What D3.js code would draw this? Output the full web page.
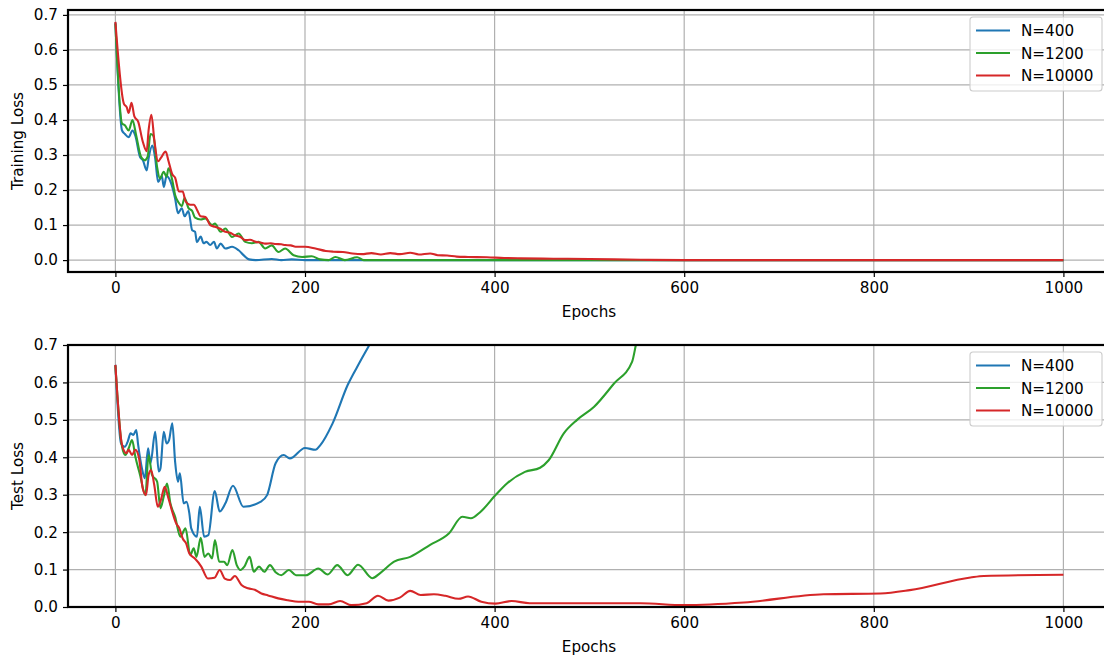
<!DOCTYPE html>
<html>
<head>
<meta charset="utf-8">
<script src="https://cdn.jsdelivr.net/npm/d3@7"></script>
<style>
  body { margin: 0; background: #fff; }
  svg { font-family: "DejaVu Sans", sans-serif; }
</style>
</head>
<body>
<div id="chart"></div>
<script>
// data: epochs and loss per series
var trainEp400 = [0, 7, 10, 14, 18, 21, 26, 29, 33, 35, 39, 42, 45, 49, 51, 54, 58, 63, 66, 70, 73, 77, 81, 84, 86, 90, 93, 96, 100, 104, 107, 111, 116, 123, 130, 136, 141, 148, 165, 175, 186, 200, 1000];
var trainLoss400 = [0.678, 0.37, 0.36, 0.351, 0.37, 0.355, 0.294, 0.285, 0.256, 0.29, 0.327, 0.29, 0.223, 0.24, 0.209, 0.24, 0.225, 0.176, 0.134, 0.148, 0.125, 0.14, 0.085, 0.081, 0.051, 0.067, 0.048, 0.052, 0.043, 0.052, 0.033, 0.047, 0.033, 0.038, 0.028, 0.012, 0.002, 0.0, 0.003, 0.0, 0.002, 0.0, 0.0];

var trainEp1200 = [0, 7, 10, 14, 18, 22, 27, 31, 34, 37, 40, 44, 47, 51, 54, 56, 60, 63, 67, 70, 73, 77, 81, 84, 90, 95, 102, 105, 111, 116, 123, 130, 137, 144, 151, 158, 165, 172, 179, 188, 197, 207, 216, 225, 232, 242, 255, 262, 1000];
var trainLoss1200 = [0.675, 0.39, 0.385, 0.37, 0.40, 0.355, 0.295, 0.285, 0.295, 0.36, 0.355, 0.265, 0.233, 0.252, 0.238, 0.262, 0.228, 0.186, 0.163, 0.154, 0.177, 0.149, 0.14, 0.121, 0.116, 0.119, 0.1, 0.104, 0.081, 0.09, 0.066, 0.076, 0.052, 0.048, 0.052, 0.033, 0.042, 0.023, 0.033, 0.014, 0.009, 0.011, 0.002, 0.0, 0.009, 0.0, 0.008, 0.0, 0.0];

var trainEp10000 = [0, 9, 12, 14, 17, 20, 24, 29, 33, 35, 38, 41, 45, 48, 53, 56, 60, 63, 67, 71, 74, 79, 83, 86, 90, 95, 100, 105, 110, 116, 121, 126, 132, 137, 142, 148, 153, 158, 164, 169, 175, 179, 185, 190, 200, 211, 222, 230, 240, 250, 260, 270, 280, 290, 300, 311, 320, 332, 340, 350, 360, 372, 392, 410, 427, 462, 500, 554, 600, 1000];
var trainLoss10000 = [0.68, 0.446, 0.436, 0.42, 0.449, 0.41, 0.395, 0.337, 0.311, 0.37, 0.415, 0.344, 0.282, 0.292, 0.31, 0.283, 0.245, 0.235, 0.196, 0.196, 0.168, 0.158, 0.158, 0.144, 0.125, 0.123, 0.1, 0.095, 0.09, 0.081, 0.078, 0.071, 0.066, 0.057, 0.058, 0.052, 0.05, 0.047, 0.048, 0.046, 0.045, 0.043, 0.042, 0.038, 0.038, 0.033, 0.026, 0.024, 0.023, 0.019, 0.017, 0.02, 0.016, 0.02, 0.017, 0.021, 0.016, 0.019, 0.014, 0.013, 0.01, 0.009, 0.008, 0.006, 0.005, 0.004, 0.003, 0.001, 0.0, 0.0];

var testEp400 = [0, 6, 10, 13, 16, 19, 22, 24, 28, 31, 34.5, 37, 42, 45.7, 47.5, 51, 54, 56.6, 60, 63, 66, 68, 72, 75, 78, 80, 86, 89, 93.6, 98, 104.8, 110, 116, 124, 135, 153, 160, 169, 177.5, 184, 200, 211, 216, 229, 245, 258, 270, 280];
var testLoss400 = [0.647, 0.437, 0.428, 0.442, 0.464, 0.46, 0.473, 0.433, 0.37, 0.344, 0.424, 0.384, 0.468, 0.362, 0.37, 0.468, 0.437, 0.446, 0.491, 0.388, 0.335, 0.357, 0.277, 0.281, 0.25, 0.21, 0.188, 0.268, 0.188, 0.192, 0.31, 0.255, 0.277, 0.324, 0.268, 0.281, 0.299, 0.384, 0.406, 0.397, 0.425, 0.42, 0.432, 0.49, 0.593, 0.655, 0.71, 0.76];

var testEp1200 = [0, 7, 10.5, 14, 17.6, 21, 26, 31.6, 35, 38.6, 44, 47.5, 51, 54.5, 58, 63, 68.5, 74, 79, 82.6, 85.5, 90, 94, 98, 102, 105, 109.5, 114.6, 118, 123.4, 128, 132, 136, 141.6, 146, 151.5, 157, 163, 169, 175, 183, 190.5, 201, 214, 224, 234, 245, 256, 271, 279, 294, 311, 332, 352, 366, 375, 385, 401, 413, 432, 448, 457, 473, 487, 505, 526, 545, 549, 555];
var testLoss1200 = [0.645, 0.428, 0.406, 0.424, 0.446, 0.402, 0.353, 0.299, 0.406, 0.353, 0.335, 0.264, 0.295, 0.33, 0.277, 0.241, 0.188, 0.21, 0.139, 0.157, 0.134, 0.185, 0.134, 0.143, 0.13, 0.179, 0.121, 0.121, 0.112, 0.152, 0.112, 0.099, 0.108, 0.134, 0.094, 0.108, 0.094, 0.112, 0.093, 0.085, 0.099, 0.085, 0.085, 0.103, 0.087, 0.112, 0.085, 0.113, 0.077, 0.09, 0.121, 0.134, 0.166, 0.197, 0.241, 0.237, 0.254, 0.299, 0.33, 0.361, 0.372, 0.392, 0.464, 0.5, 0.535, 0.597, 0.655, 0.7, 0.78];

var testEp10000 = [0, 7, 11.6, 14, 17.6, 21, 25, 28.8, 32.3, 35, 37.6, 41, 44.7, 48, 52, 56, 60.5, 64, 67.5, 71, 74.6, 78, 83.6, 90.6, 97.6, 104.6, 110, 115.4, 121, 126, 133, 140, 147, 154, 161, 171.7, 182, 193, 204, 214, 225, 237, 249, 265, 277, 288, 300, 311, 322, 336, 348, 362, 372, 386, 401, 418, 437, 472, 512, 554, 600, 663, 747, 807, 838, 902, 916, 1000];
var testLoss10000 = [0.647, 0.433, 0.411, 0.42, 0.406, 0.42, 0.397, 0.317, 0.299, 0.353, 0.366, 0.326, 0.268, 0.286, 0.321, 0.29, 0.25, 0.224, 0.21, 0.183, 0.17, 0.143, 0.13, 0.108, 0.076, 0.078, 0.099, 0.076, 0.072, 0.083, 0.059, 0.05, 0.046, 0.036, 0.031, 0.023, 0.018, 0.014, 0.014, 0.007, 0.007, 0.016, 0.005, 0.01, 0.03, 0.017, 0.025, 0.043, 0.032, 0.034, 0.03, 0.022, 0.028, 0.014, 0.009, 0.016, 0.01, 0.01, 0.01, 0.01, 0.005, 0.012, 0.034, 0.036, 0.045, 0.079, 0.083, 0.086];

var seriesNames = ["N=400", "N=1200", "N=10000"];
var seriesColors = ["#1f77b4", "#2ca02c", "#d62728"];
var xTicks = [0, 200, 400, 600, 800, 1000];
var yTicks = [0.0, 0.1, 0.2, 0.3, 0.4, 0.5, 0.6, 0.7];

var W = 1104, H = 656;
var left = 68, plotW = 1042.8, plotH = 262;
var fs = 15.2;

var svg = d3.select("#chart").append("svg")
  .attr("width", W).attr("height", H);

function zip(ep, loss) {
  return ep.map(function(e, i) { return [e, loss[i]]; });
}

var panels = [
  {top: 10, yDomain: [-0.034, 0.714], label: "Training Loss",
   data: [zip(trainEp400, trainLoss400), zip(trainEp1200, trainLoss1200), zip(trainEp10000, trainLoss10000)]},
  {top: 345, yDomain: [0, 0.7], label: "Test Loss",
   data: [zip(testEp400, testLoss400), zip(testEp1200, testLoss1200), zip(testEp10000, testLoss10000)]}
];

panels.forEach(function(p, pi) {
  var x = d3.scaleLinear().domain([-50, 1050]).range([left, left + plotW]);
  var y = d3.scaleLinear().domain(p.yDomain).range([p.top + plotH, p.top]);

  var g = svg.append("g");

  // grid
  g.append("g").selectAll("line").data(xTicks).join("line")
    .attr("x1", d => x(d)).attr("x2", d => x(d))
    .attr("y1", p.top).attr("y2", p.top + plotH)
    .attr("stroke", "#b0b0b0").attr("stroke-width", 1.2);
  g.append("g").selectAll("line").data(yTicks).join("line")
    .attr("x1", left).attr("x2", left + plotW)
    .attr("y1", d => y(d)).attr("y2", d => y(d))
    .attr("stroke", "#b0b0b0").attr("stroke-width", 1.2);

  // clip
  svg.append("clipPath").attr("id", "clip" + pi)
    .append("rect").attr("x", left).attr("y", p.top)
    .attr("width", plotW).attr("height", plotH);

  var line = d3.line()
    .x(d => x(d[0])).y(d => y(d[1]))
    .curve(d3.curveMonotoneX);

  g.append("g").attr("clip-path", "url(#clip" + pi + ")")
    .selectAll("path").data(p.data).join("path")
    .attr("d", line)
    .attr("fill", "none")
    .attr("stroke", (d, i) => seriesColors[i])
    .attr("stroke-width", 2.1)
    .attr("stroke-linejoin", "round");

  // axes
  var xAxis = g.append("g")
    .attr("transform", "translate(0," + (p.top + plotH) + ")")
    .call(d3.axisBottom(x).tickValues(xTicks).tickSize(5).tickPadding(5).tickFormat(d3.format("d")));
  var yAxis = g.append("g")
    .attr("transform", "translate(" + left + ",0)")
    .call(d3.axisLeft(y).tickValues(yTicks).tickSize(5).tickPadding(5).tickFormat(d3.format(".1f")));
  [xAxis, yAxis].forEach(function(a) {
    a.select(".domain").remove();
    a.selectAll(".tick line").attr("stroke", "#000").attr("stroke-width", 1.2);
    a.selectAll(".tick text").attr("fill", "#000").style("font-size", fs + "px")
      .style("font-family", "DejaVu Sans");
  });

  // spines
  g.append("rect").attr("x", left).attr("y", p.top)
    .attr("width", plotW).attr("height", plotH)
    .attr("fill", "none").attr("stroke", "#000").attr("stroke-width", 2.2);

  // axis labels
  g.append("text").attr("x", 589).attr("y", p.top + plotH + 45)
    .attr("text-anchor", "middle").style("font-size", fs + "px").text("Epochs");
  g.append("text")
    .attr("transform", "translate(23," + (p.top + plotH / 2) + ") rotate(-90)")
    .attr("text-anchor", "middle").style("font-size", fs + "px").text(p.label);

  // legend
  var lg = g.append("g").attr("transform", "translate(970," + (p.top + 7) + ")");
  lg.append("rect").attr("width", 132).attr("height", 74).attr("rx", 3)
    .attr("fill", "#fff").attr("fill-opacity", 0.8)
    .attr("stroke", "#cccccc").attr("stroke-width", 1.1);
  seriesNames.forEach(function(n, i) {
    var yy = 13.5 + i * 22.5;
    lg.append("line").attr("x1", 6).attr("x2", 40).attr("y1", yy).attr("y2", yy)
      .attr("stroke", seriesColors[i]).attr("stroke-width", 2.1);
    lg.append("text").attr("x", 51).attr("y", yy + 5.5)
      .style("font-size", fs + "px").text(n);
  });
});
</script>
</body>
</html>
